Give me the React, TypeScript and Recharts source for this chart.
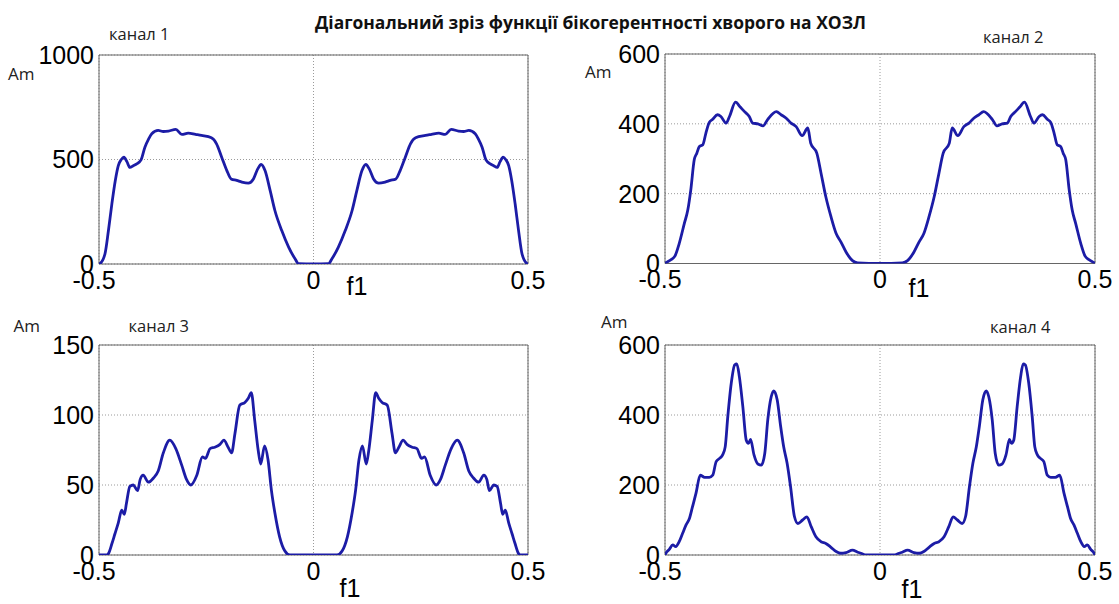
import { LineChart, Line, XAxis, YAxis, CartesianGrid, ReferenceArea } from "recharts";

const axisFont = "'Liberation Sans', Arial, sans-serif";
const labelFont = "'Open Sans', 'Noto Sans', sans-serif";
const lineColor = "#1c1ca6";

const pageTitle = "Діагональний зріз функції бікогерентності хворого на ХОЗЛ";
const channelNames = ["канал 1", "канал 2", "канал 3", "канал 4"];
const freqTicks = [-0.5, 0, 0.5];

// канал 1
const ch1Freq = [
  -0.5, -0.497, -0.486, -0.478, -0.47, -0.462, -0.455, -0.448, -0.442, -0.435, -0.428, -0.42, -0.412,
  -0.402, -0.393, -0.385, -0.377, -0.362, -0.35, -0.338, -0.321, -0.307, -0.292, -0.275, -0.261, -0.238,
  -0.226, -0.214, -0.202, -0.192, -0.179, -0.167, -0.152, -0.14, -0.13, -0.122, -0.113, -0.101, -0.09,
  -0.074, -0.058, -0.043, -0.035, 0,
  0.035, 0.043, 0.058, 0.074, 0.09, 0.101, 0.113, 0.122, 0.13, 0.14, 0.152, 0.167, 0.179, 0.192, 0.202,
  0.214, 0.226, 0.238, 0.261, 0.275, 0.292, 0.307, 0.321, 0.338, 0.35, 0.362, 0.377, 0.385, 0.393, 0.402,
  0.412, 0.42, 0.428, 0.435, 0.442, 0.448, 0.455, 0.462, 0.47, 0.478, 0.486, 0.497, 0.5,
];
const ch1Amp = [
  0, 3, 49, 160, 288, 400, 471, 500, 511, 490, 462, 470, 479,
  498, 559, 595, 623, 639, 634, 636, 644, 620, 626, 620, 615, 604,
  575, 511, 447, 407, 400, 392, 387, 407, 455, 476, 447, 351, 256,
  160, 81, 25, 2, 0,
  2, 25, 81, 160, 256, 351, 447, 476, 455, 407, 387, 392, 400, 407, 447,
  511, 575, 604, 615, 620, 626, 620, 644, 636, 634, 639, 623, 595, 559, 498,
  479, 470, 462, 490, 511, 500, 471, 400, 288, 160, 49, 3, 0,
];
const ch1Ticks = [0, 500, 1000];

// канал 2
const ch2Freq = [
  -0.5, -0.498, -0.486, -0.477, -0.467, -0.455, -0.447, -0.44, -0.432, -0.426, -0.42, -0.412, -0.405,
  -0.397, -0.389, -0.378, -0.37, -0.358, -0.35, -0.336, -0.325, -0.315, -0.304, -0.296, -0.284, -0.272,
  -0.261, -0.241, -0.23, -0.218, -0.207, -0.195, -0.181, -0.168, -0.161, -0.147, -0.137, -0.126, -0.114,
  -0.102, -0.091, -0.079, -0.064, -0.052, 0,
  0.052, 0.064, 0.079, 0.091, 0.102, 0.114, 0.126, 0.137, 0.147, 0.161, 0.168, 0.181, 0.195, 0.207,
  0.218, 0.23, 0.241, 0.261, 0.272, 0.284, 0.296, 0.304, 0.315, 0.325, 0.336, 0.35, 0.358, 0.37, 0.378,
  0.389, 0.397, 0.405, 0.412, 0.42, 0.426, 0.432, 0.44, 0.447, 0.455, 0.467, 0.477, 0.486, 0.498, 0.5,
];
const ch2Amp = [
  0, 2, 11, 21, 57, 115, 153, 211, 297, 316, 335, 340, 373,
  404, 413, 426, 421, 402, 421, 462, 448, 435, 421, 402, 400, 394,
  413, 435, 426, 416, 402, 392, 366, 388, 344, 316, 258, 191, 134,
  86, 62, 33, 8, 2, 0,
  2, 8, 33, 62, 86, 134, 191, 258, 316, 344, 388, 366, 392, 402,
  416, 426, 435, 413, 394, 400, 402, 421, 435, 448, 462, 421, 402, 421, 426,
  413, 404, 373, 340, 335, 316, 297, 211, 153, 115, 57, 21, 11, 2, 0,
];
const ch2Ticks = [0, 200, 400, 600];

// канал 3
const ch3Freq = [
  -0.5, -0.482, -0.478, -0.47, -0.463, -0.455, -0.447, -0.441, -0.436, -0.428, -0.42, -0.41, -0.404,
  -0.397, -0.385, -0.373, -0.362, -0.35, -0.335, -0.321, -0.307, -0.296, -0.286, -0.272, -0.259, -0.252,
  -0.241, -0.23, -0.218, -0.209, -0.199, -0.191, -0.183, -0.172, -0.16, -0.152, -0.145, -0.137, -0.129,
  -0.123, -0.114, -0.106, -0.098, -0.09, -0.079, -0.067, -0.055, 0,
  0.055, 0.067, 0.079, 0.09, 0.098, 0.106, 0.114, 0.123, 0.129, 0.137, 0.145, 0.152, 0.16, 0.172,
  0.183, 0.191, 0.199, 0.209, 0.218, 0.23, 0.241, 0.252, 0.259, 0.272, 0.286, 0.296, 0.307, 0.321,
  0.335, 0.35, 0.362, 0.373, 0.385, 0.397, 0.404, 0.41, 0.42, 0.428, 0.436, 0.441, 0.447, 0.455, 0.463,
  0.47, 0.478, 0.482, 0.5,
];
const ch3Amp = [
  0, 0, 1, 8, 15, 23, 32, 29, 37, 49, 50, 46, 54,
  57, 52, 55, 60, 73, 82, 76, 64, 54, 50, 57, 70, 69,
  76, 77, 79, 82, 77, 73, 87, 107, 109, 112, 116, 96, 75,
  65, 78, 68, 46, 30, 13, 3, 0, 0,
  0, 3, 13, 30, 46, 68, 78, 65, 75, 96, 116, 112, 109, 107,
  87, 73, 77, 82, 79, 77, 76, 69, 70, 57, 50, 54, 64, 76,
  82, 73, 60, 55, 52, 57, 54, 46, 50, 49, 37, 29, 32, 23, 15,
  8, 1, 0, 0,
];
const ch3Ticks = [0, 50, 100, 150];

// канал 4
const ch4Freq = [
  -0.5, -0.498, -0.49, -0.482, -0.475, -0.467, -0.459, -0.451, -0.443, -0.436, -0.428, -0.418, -0.408,
  -0.397, -0.389, -0.381, -0.373, -0.366, -0.36, -0.354, -0.346, -0.338, -0.333, -0.327, -0.319, -0.311,
  -0.306, -0.301, -0.293, -0.284, -0.276, -0.268, -0.261, -0.253, -0.247, -0.239, -0.231, -0.224, -0.216,
  -0.208, -0.199, -0.191, -0.18, -0.17, -0.16, -0.149, -0.137, -0.126, -0.114, -0.102, -0.091, -0.079,
  -0.064, -0.052, -0.04, -0.034, 0,
  0.034, 0.04, 0.052, 0.064, 0.079, 0.091, 0.102, 0.114, 0.126, 0.137, 0.149, 0.16, 0.17, 0.18, 0.191,
  0.199, 0.208, 0.216, 0.224, 0.231, 0.239, 0.247, 0.253, 0.261, 0.268, 0.276, 0.284, 0.293, 0.301,
  0.306, 0.311, 0.319, 0.327, 0.333, 0.338, 0.346, 0.354, 0.36, 0.366, 0.373, 0.381, 0.389, 0.397,
  0.408, 0.418, 0.428, 0.436, 0.443, 0.451, 0.459, 0.467, 0.475, 0.482, 0.49, 0.498, 0.5,
];
const ch4Amp = [
  0, 5, 16, 29, 24, 38, 62, 86, 105, 138, 176, 228, 222,
  222, 228, 267, 276, 286, 309, 395, 490, 543, 546, 509, 424, 328,
  319, 330, 286, 260, 257, 290, 386, 452, 469, 443, 367, 309, 262,
  195, 110, 90, 100, 109, 81, 52, 38, 33, 22, 10, 5, 7,
  14, 8, 3, 0, 0,
  0, 3, 8, 14, 7, 5, 10, 22, 33, 38, 52, 81, 109, 100, 90,
  110, 195, 262, 309, 367, 443, 469, 452, 386, 290, 257, 260, 286, 330,
  319, 328, 424, 509, 546, 543, 490, 395, 309, 286, 276, 267, 228, 222,
  222, 228, 176, 138, 105, 86, 62, 38, 24, 29, 16, 5, 0,
];
const ch4Ticks = [0, 200, 400, 600];

type Box = { x: number; y: number; w: number; h: number };

const AXIS_W = 96;
const PAD_T = 16;
const PAD_R = 24;
const AXIS_H = 50;

function FreqTick({ x, y, payload }: any) {
  // MATLAB-style labels: the minus sign pushes "-0.5" a little to the left
  const shift = payload.value < 0 ? -5 : 0;
  return (
    <text x={x + shift} y={y} dy="0.71em" textAnchor="middle" fontSize={25} fontFamily={axisFont} fill="#000">
      {String(payload.value)}
    </text>
  );
}

function Panel({ freq, amp, yTicks, box }: { freq: number[]; amp: number[]; yTicks: number[]; box: Box }) {
  const data = freq.map((f, i) => ({ f, am: amp[i] }));
  const yMax = yTicks[yTicks.length - 1];
  return (
    <div style={{ position: "absolute", left: box.x - AXIS_W, top: box.y - PAD_T }}>
      <LineChart
        width={AXIS_W + box.w + PAD_R}
        height={PAD_T + box.h + AXIS_H}
        data={data}
        margin={{ top: PAD_T, right: PAD_R, bottom: 0, left: 0 }}
        style={{ overflow: "visible" }}
      >
        <CartesianGrid stroke="#9a9a9a" strokeDasharray="1 2" />
        <XAxis
          dataKey="f"
          type="number"
          domain={[-0.5, 0.5]}
          ticks={freqTicks}
          interval={0}
          tickLine={false}
          axisLine={false}
          tickSize={0}
          tickMargin={7}
          height={AXIS_H}
          tick={<FreqTick />}
          allowDataOverflow
        />
        <YAxis
          type="number"
          domain={[0, yMax]}
          ticks={yTicks}
          interval={0}
          tickLine={false}
          axisLine={false}
          tickSize={0}
          tickMargin={5}
          width={AXIS_W}
          tick={{ fontSize: 25, fill: "#000", fontFamily: axisFont }}
          allowDataOverflow
        />
        <Line
          type="monotone"
          dataKey="am"
          stroke={lineColor}
          strokeWidth={2.8}
          dot={false}
          isAnimationActive={false}
        />
        <ReferenceArea x1={-0.5} x2={0.5} y1={0} y2={yMax} fill="none" fillOpacity={0} stroke="#666" strokeWidth={1} />
      </LineChart>
    </div>
  );
}

const boxes: Box[] = [
  { x: 99, y: 54.5, w: 429, h: 209 },
  { x: 665, y: 54, w: 430, h: 209.5 },
  { x: 99, y: 345, w: 429, h: 210 },
  { x: 665, y: 345, w: 430, h: 210 },
];

export default function App() {
  return (
    <div style={{ position: "absolute", left: 0, top: 0, width: 1119, height: 604, background: "#fff", overflow: "hidden" }}>
      <Panel freq={ch1Freq} amp={ch1Amp} yTicks={ch1Ticks} box={boxes[0]} />
      <Panel freq={ch2Freq} amp={ch2Amp} yTicks={ch2Ticks} box={boxes[1]} />
      <Panel freq={ch3Freq} amp={ch3Amp} yTicks={ch3Ticks} box={boxes[2]} />
      <Panel freq={ch4Freq} amp={ch4Amp} yTicks={ch4Ticks} box={boxes[3]} />
      <svg
        width={1119}
        height={604}
        style={{ position: "absolute", left: 0, top: 0, pointerEvents: "none" }}
      >
        <text x={590.5} y={29} textAnchor="middle" fontSize={17} fontWeight="bold" fontFamily={labelFont} fill="#111" textLength={551} lengthAdjust="spacingAndGlyphs">
          {pageTitle}
        </text>

        <text x={109} y={40} fontSize={16.5} fontFamily={labelFont} fill="#222">{channelNames[0]}</text>
        <text x={983} y={43} fontSize={16.5} fontFamily={labelFont} fill="#222">{channelNames[1]}</text>
        <text x={128.6} y={332} fontSize={16.5} fontFamily={labelFont} fill="#222">{channelNames[2]}</text>
        <text x={990} y={333} fontSize={16.5} fontFamily={labelFont} fill="#222">{channelNames[3]}</text>

        <text x={8} y={80} fontSize={17} fontFamily={labelFont} fill="#222">Am</text>
        <text x={585} y={78} fontSize={17} fontFamily={labelFont} fill="#222">Am</text>
        <text x={13.6} y={332} fontSize={17} fontFamily={labelFont} fill="#222">Am</text>
        <text x={601} y={328} fontSize={17} fontFamily={labelFont} fill="#222">Am</text>

        <text x={357} y={295} textAnchor="middle" fontSize={25} fontFamily={axisFont} fill="#000">f1</text>
        <text x={919} y={297} textAnchor="middle" fontSize={25} fontFamily={axisFont} fill="#000">f1</text>
        <text x={350} y={597} textAnchor="middle" fontSize={25} fontFamily={axisFont} fill="#000">f1</text>
        <text x={912} y={598} textAnchor="middle" fontSize={25} fontFamily={axisFont} fill="#000">f1</text>
      </svg>
    </div>
  );
}
